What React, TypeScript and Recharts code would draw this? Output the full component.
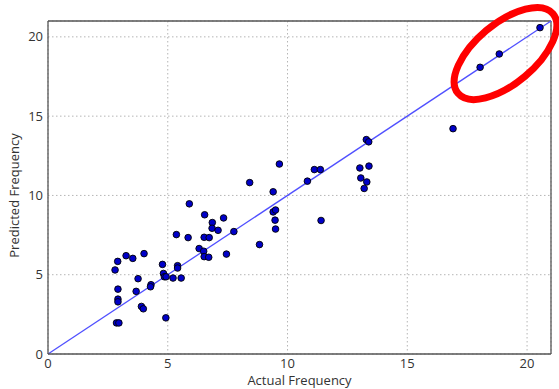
import React from "react";
import {
  ScatterChart,
  Scatter,
  XAxis,
  YAxis,
  CartesianGrid,
  ReferenceLine,
  ReferenceDot,
} from "recharts";

const actual: number[] = [
  2.8, 2.91, 3.26, 3.54, 4.01, 2.92, 2.92, 2.92, 2.86, 2.96, 3.76, 3.68, 3.9,
  3.98, 4.3, 4.28, 4.78, 4.82, 4.86, 4.93, 4.92, 5.22, 5.41, 5.41, 5.56, 5.36,
  5.85, 5.9, 6.31, 6.5, 6.52, 6.54, 6.52, 6.71, 6.73, 6.86, 6.85, 7.1, 7.33,
  7.45, 7.76, 8.42, 8.83, 9.4, 9.66, 9.4, 9.5, 9.48, 9.5, 10.83, 11.12, 11.37,
  11.4, 13.02, 13.06, 13.31, 13.2, 13.4, 13.29, 13.39, 16.91, 18.04, 18.84,
  20.54,
];
const predicted: number[] = [
  5.3, 5.84, 6.2, 6.03, 6.33, 4.09, 3.46, 3.29, 1.96, 1.96, 4.75, 3.95, 3.0,
  2.85, 4.37, 4.24, 5.65, 5.08, 4.87, 4.87, 2.28, 4.79, 5.57, 5.42, 4.79, 7.53,
  7.34, 9.47, 6.65, 6.48, 7.36, 8.78, 6.14, 6.1, 7.34, 8.29, 7.93, 7.8, 8.58,
  6.3, 7.72, 10.81, 6.9, 10.23, 11.98, 8.96, 9.08, 8.44, 7.88, 10.9, 11.63,
  11.63, 8.42, 11.73, 11.1, 10.85, 10.44, 11.85, 13.52, 13.38, 14.21, 18.08,
  18.92, 20.58,
];
const xTicks: number[] = [0, 5, 10, 15, 20];
const yTicks: number[] = [0, 5, 10, 15, 20];
const axisMax = 21;
const highlightCenter = { x: 19.1, y: 18.95 };

const points = actual.map((a, i) => ({ actual: a, predicted: predicted[i] }));

const font = "'Open Sans', 'DejaVu Sans', sans-serif";

const Dot = (props: any) => {
  const { cx, cy } = props;
  return <circle cx={cx} cy={cy} r={3.3} fill="#0000c8" stroke="#000" strokeWidth={0.9} />;
};

const EllipseShape = (props: any) => {
  const { cx, cy } = props;
  return (
    <g>
      <ellipse
        cx={cx}
        cy={cy}
        rx={62}
        ry={30}
        fill="none"
        stroke="#ff0000"
        strokeWidth={7}
        transform={`rotate(-40 ${cx} ${cy})`}
      />
    </g>
  );
};

const YLabel = (props: any) => {
  const vb = props.viewBox || {};
  const cy = vb.y + vb.height / 2 + 8;
  return (
    <text
      x={14}
      y={cy}
      transform={`rotate(-90 14 ${cy})`}
      textAnchor="middle"
      dominantBaseline="central"
      fontFamily={font}
      fontSize={13}
      fill="#333"
    >
      Predicted Frequency
    </text>
  );
};

const XLabel = (props: any) => {
  const vb = props.viewBox || {};
  const cx = vb.x + vb.width / 2;
  return (
    <text
      x={cx}
      y={380}
      textAnchor="middle"
      dominantBaseline="central"
      fontFamily={font}
      fontSize={13}
      fill="#333"
    >
      Actual Frequency
    </text>
  );
};

export default function App() {
  return (
    <div style={{ position: "absolute", left: 0, top: 0, background: "#fff" }}>
      <ScatterChart
        width={559}
        height={389}
        margin={{ top: 21, right: 8, left: 0, bottom: 0 }}
      >
        <CartesianGrid
          stroke="#b5b5b5"
          strokeDasharray="1.5 2.5"
          vertical
          horizontal
        />
        <XAxis
          type="number"
          dataKey="actual"
          domain={[0, axisMax]}
          ticks={xTicks}
          allowDataOverflow
          height={35}
          tickLine={false}
          tickSize={0}
          tickMargin={5}
          axisLine={{ stroke: "#555", strokeWidth: 1.3 }}
          tick={{ fontFamily: font, fontSize: 13, fill: "#333" }}
          label={<XLabel />}
        />
        <YAxis
          type="number"
          dataKey="predicted"
          domain={[0, axisMax]}
          ticks={yTicks}
          allowDataOverflow
          width={48}
          tickLine={false}
          tickSize={0}
          tickMargin={5}
          axisLine={{ stroke: "#555", strokeWidth: 1.3 }}
          tick={{ fontFamily: font, fontSize: 13, fill: "#333" }}
          label={<YLabel />}
        />
        <ReferenceLine x={axisMax} stroke="#555" strokeWidth={1.3} />
        <ReferenceLine y={axisMax} stroke="#555" strokeWidth={1.3} />
        <ReferenceLine
          segment={[
            { x: 0, y: 0 },
            { x: axisMax, y: axisMax },
          ]}
          stroke="#5050ff"
          strokeWidth={1.3}
        />
        <Scatter data={points} shape={<Dot />} isAnimationActive={false} />
        <ReferenceDot
          x={highlightCenter.x}
          y={highlightCenter.y}
          ifOverflow="visible"
          shape={<EllipseShape />}
        />
      </ScatterChart>
    </div>
  );
}
